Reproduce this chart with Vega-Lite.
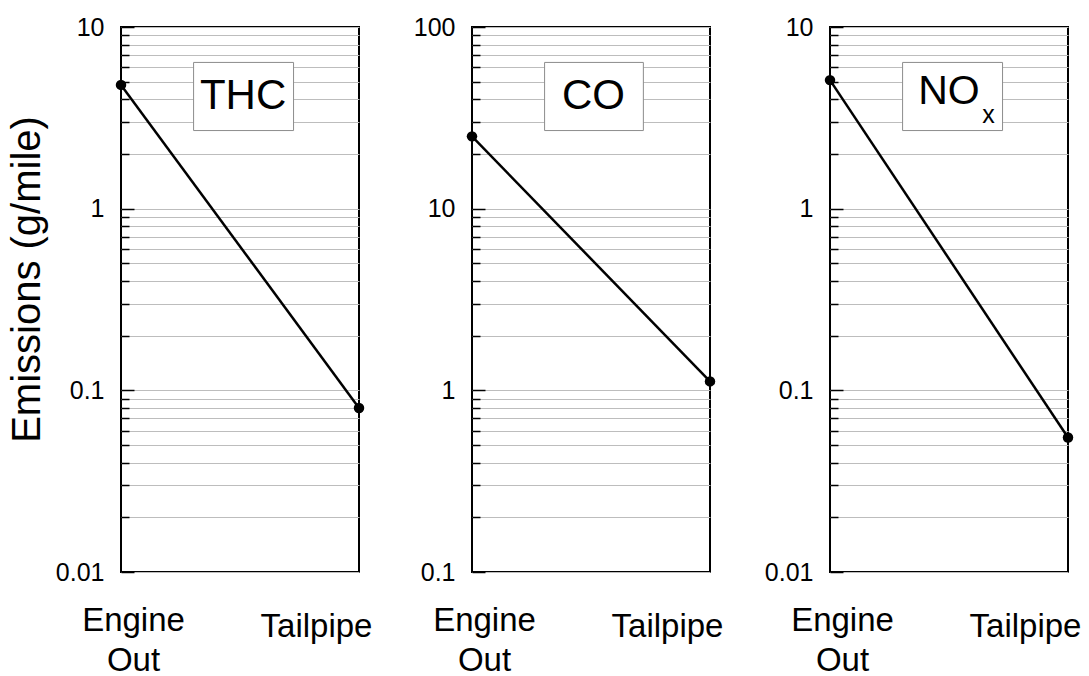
{
  "$schema": "https://vega.github.io/schema/vega-lite/v6.json",
  "padding": {"top": 14, "left": 6, "right": 0, "bottom": 0},
  "spacing": 39,
  "data": {"values": [
    {"pollutant": "THC", "stage": "Engine Out", "value": 4.8},
    {"pollutant": "THC", "stage": "Tailpipe", "value": 0.08},
    {"pollutant": "CO", "stage": "Engine Out", "value": 25},
    {"pollutant": "CO", "stage": "Tailpipe", "value": 1.12},
    {"pollutant": "NOx", "stage": "Engine Out", "value": 5.1},
    {"pollutant": "NOx", "stage": "Tailpipe", "value": 0.055}
  ]},
  "config": {
    "font": "Liberation Sans",
    "view": {"stroke": "black", "strokeWidth": 2},
    "axis": {"labelColor": "black", "titleColor": "black", "labelFont": "Liberation Sans", "titleFont": "Liberation Sans", "titleFontWeight": "normal"}
  },
  "hconcat": [
    {
      "width": 238, "height": 545,
      "layer": [
        {
          "transform": [{"filter": "datum.pollutant == 'THC'"}],
          "encoding": {
            "x": {"field": "stage", "type": "ordinal", "sort": ["Engine Out", "Tailpipe"], "scale": {"type": "point", "padding": 0},
              "axis": {"title": null, "labelAngle": 0, "domain": false, "ticks": false, "grid": false, "labelFontSize": 33, "labelLineHeight": 40, "labelBaseline": "top", "labelOverlap": false, "labelFlush": false,
                "labelExpr": "datum.value == 'Engine Out' ? ['Engine', 'Out'] : datum.value",
                "labelOffset": {"condition": {"test": "datum.value == 'Engine Out'", "value": 12}, "value": -43},
                "labelPadding": {"condition": {"test": "datum.value == 'Engine Out'", "value": 32}, "value": 38}}},
            "y": {"field": "value", "type": "quantitative", "scale": {"type": "log", "domain": [0.01, 10]},
              "axis": {"title": "Emissions (g/mile)", "titleFontSize": 40, "titlePadding": 8, "titleY": 252,
                "values": [0.01,0.02,0.03,0.04,0.05,0.06,0.07,0.08,0.09,0.1,0.2,0.3,0.4,0.5,0.6,0.7,0.8,0.9,1,2,3,4,5,6,7,8,9,10],
                "labelExpr": "(datum.value == 0.01 || datum.value == 0.1 || datum.value == 1 || datum.value == 10 || datum.value == 100) ? '' + datum.value : ''",
                "labelFontSize": 25, "labelPadding": 30, "labelOverlap": false, "labelFlush": false, "labelBound": false,
                "domain": false, "grid": true, "gridColor": "#bdbdbd", "gridWidth": 1,
                "tickColor": "black", "tickWidth": 1.5,
                "tickSize": {"condition": {"test": "datum.value == 0.01 || datum.value == 0.1 || datum.value == 1 || datum.value == 10 || datum.value == 100", "value": -13}, "value": -8}}}
          },
          "layer": [
            {"mark": {"type": "line", "color": "black", "strokeWidth": 2.5}},
            {"mark": {"type": "point", "filled": true, "color": "black", "size": 110, "opacity": 1}}
          ]
        },
        {
          "data": {"values": [{"label": "THC"}]},
          "layer": [
            {"mark": {"type": "rect", "fill": "white", "stroke": "#8c8c8c", "strokeWidth": 1},
              "encoding": {
                "x": {"datum": 0.305, "type": "quantitative", "scale": {"domain": [0, 1], "nice": false, "zero": false}, "axis": null},
                "x2": {"datum": 0.725},
                "y": {"datum": 0.935, "type": "quantitative", "scale": {"domain": [0, 1], "nice": false, "zero": false}, "axis": null},
                "y2": {"datum": 0.81}}},
            {"mark": {"type": "text", "fontSize": 42, "font": "Liberation Sans", "color": "black", "baseline": "alphabetic", "align": "center"},
              "encoding": {
                "x": {"datum": 0.513, "type": "quantitative", "scale": {"domain": [0, 1], "nice": false, "zero": false}, "axis": null},
                "y": {"datum": 0.85, "type": "quantitative", "scale": {"domain": [0, 1], "nice": false, "zero": false}, "axis": null},
                "text": {"field": "label"}}}
          ]
        }
      ],
      "resolve": {"scale": {"x": "independent", "y": "independent"}, "axis": {"x": "independent", "y": "independent"}}
    },
    {
      "width": 238, "height": 545,
      "layer": [
        {
          "transform": [{"filter": "datum.pollutant == 'CO'"}],
          "encoding": {
            "x": {"field": "stage", "type": "ordinal", "sort": ["Engine Out", "Tailpipe"], "scale": {"type": "point", "padding": 0},
              "axis": {"title": null, "labelAngle": 0, "domain": false, "ticks": false, "grid": false, "labelFontSize": 33, "labelLineHeight": 40, "labelBaseline": "top", "labelOverlap": false, "labelFlush": false,
                "labelExpr": "datum.value == 'Engine Out' ? ['Engine', 'Out'] : datum.value",
                "labelOffset": {"condition": {"test": "datum.value == 'Engine Out'", "value": 12}, "value": -43},
                "labelPadding": {"condition": {"test": "datum.value == 'Engine Out'", "value": 32}, "value": 38}}},
            "y": {"field": "value", "type": "quantitative", "scale": {"type": "log", "domain": [0.1, 100]},
              "axis": {"title": null,
                "values": [0.1,0.2,0.3,0.4,0.5,0.6,0.7,0.8,0.9,1,2,3,4,5,6,7,8,9,10,20,30,40,50,60,70,80,90,100],
                "labelExpr": "(datum.value == 0.01 || datum.value == 0.1 || datum.value == 1 || datum.value == 10 || datum.value == 100) ? '' + datum.value : ''",
                "labelFontSize": 25, "labelPadding": 30, "labelOverlap": false, "labelFlush": false, "labelBound": false,
                "domain": false, "grid": true, "gridColor": "#bdbdbd", "gridWidth": 1,
                "tickColor": "black", "tickWidth": 1.5,
                "tickSize": {"condition": {"test": "datum.value == 0.01 || datum.value == 0.1 || datum.value == 1 || datum.value == 10 || datum.value == 100", "value": -13}, "value": -8}}}
          },
          "layer": [
            {"mark": {"type": "line", "color": "black", "strokeWidth": 2.5}},
            {"mark": {"type": "point", "filled": true, "color": "black", "size": 110, "opacity": 1}}
          ]
        },
        {
          "data": {"values": [{"label": "CO"}]},
          "layer": [
            {"mark": {"type": "rect", "fill": "white", "stroke": "#8c8c8c", "strokeWidth": 1},
              "encoding": {
                "x": {"datum": 0.305, "type": "quantitative", "scale": {"domain": [0, 1], "nice": false, "zero": false}, "axis": null},
                "x2": {"datum": 0.72},
                "y": {"datum": 0.935, "type": "quantitative", "scale": {"domain": [0, 1], "nice": false, "zero": false}, "axis": null},
                "y2": {"datum": 0.81}}},
            {"mark": {"type": "text", "fontSize": 42, "font": "Liberation Sans", "color": "black", "baseline": "alphabetic", "align": "center"},
              "encoding": {
                "x": {"datum": 0.51, "type": "quantitative", "scale": {"domain": [0, 1], "nice": false, "zero": false}, "axis": null},
                "y": {"datum": 0.85, "type": "quantitative", "scale": {"domain": [0, 1], "nice": false, "zero": false}, "axis": null},
                "text": {"field": "label"}}}
          ]
        }
      ],
      "resolve": {"scale": {"x": "independent", "y": "independent"}, "axis": {"x": "independent", "y": "independent"}}
    },
    {
      "width": 238, "height": 545,
      "layer": [
        {
          "transform": [{"filter": "datum.pollutant == 'NOx'"}],
          "encoding": {
            "x": {"field": "stage", "type": "ordinal", "sort": ["Engine Out", "Tailpipe"], "scale": {"type": "point", "padding": 0},
              "axis": {"title": null, "labelAngle": 0, "domain": false, "ticks": false, "grid": false, "labelFontSize": 33, "labelLineHeight": 40, "labelBaseline": "top", "labelOverlap": false, "labelFlush": false,
                "labelExpr": "datum.value == 'Engine Out' ? ['Engine', 'Out'] : datum.value",
                "labelOffset": {"condition": {"test": "datum.value == 'Engine Out'", "value": 12}, "value": -43},
                "labelPadding": {"condition": {"test": "datum.value == 'Engine Out'", "value": 32}, "value": 38}}},
            "y": {"field": "value", "type": "quantitative", "scale": {"type": "log", "domain": [0.01, 10]},
              "axis": {"title": null,
                "values": [0.01,0.02,0.03,0.04,0.05,0.06,0.07,0.08,0.09,0.1,0.2,0.3,0.4,0.5,0.6,0.7,0.8,0.9,1,2,3,4,5,6,7,8,9,10],
                "labelExpr": "(datum.value == 0.01 || datum.value == 0.1 || datum.value == 1 || datum.value == 10 || datum.value == 100) ? '' + datum.value : ''",
                "labelFontSize": 25, "labelPadding": 30, "labelOverlap": false, "labelFlush": false, "labelBound": false,
                "domain": false, "grid": true, "gridColor": "#bdbdbd", "gridWidth": 1,
                "tickColor": "black", "tickWidth": 1.5,
                "tickSize": {"condition": {"test": "datum.value == 0.01 || datum.value == 0.1 || datum.value == 1 || datum.value == 10 || datum.value == 100", "value": -13}, "value": -8}}}
          },
          "layer": [
            {"mark": {"type": "line", "color": "black", "strokeWidth": 2.5}},
            {"mark": {"type": "point", "filled": true, "color": "black", "size": 110, "opacity": 1}}
          ]
        },
        {
          "data": {"values": [{"label": "NO", "sub": "x"}]},
          "layer": [
            {"mark": {"type": "rect", "fill": "white", "stroke": "#8c8c8c", "strokeWidth": 1},
              "encoding": {
                "x": {"datum": 0.305, "type": "quantitative", "scale": {"domain": [0, 1], "nice": false, "zero": false}, "axis": null},
                "x2": {"datum": 0.725},
                "y": {"datum": 0.935, "type": "quantitative", "scale": {"domain": [0, 1], "nice": false, "zero": false}, "axis": null},
                "y2": {"datum": 0.81}}},
            {"mark": {"type": "text", "fontSize": 41, "font": "Liberation Sans", "color": "black", "baseline": "alphabetic", "align": "center"},
              "encoding": {
                "x": {"datum": 0.5, "type": "quantitative", "scale": {"domain": [0, 1], "nice": false, "zero": false}, "axis": null},
                "y": {"datum": 0.859, "type": "quantitative", "scale": {"domain": [0, 1], "nice": false, "zero": false}, "axis": null},
                "text": {"field": "label"}}},
            {"mark": {"type": "text", "fontSize": 25, "font": "Liberation Sans", "color": "black", "baseline": "alphabetic", "align": "left"},
              "encoding": {
                "x": {"datum": 0.64, "type": "quantitative", "scale": {"domain": [0, 1], "nice": false, "zero": false}, "axis": null},
                "y": {"datum": 0.824, "type": "quantitative", "scale": {"domain": [0, 1], "nice": false, "zero": false}, "axis": null},
                "text": {"field": "sub"}}}
          ]
        }
      ],
      "resolve": {"scale": {"x": "independent", "y": "independent"}, "axis": {"x": "independent", "y": "independent"}}
    }
  ]
}
